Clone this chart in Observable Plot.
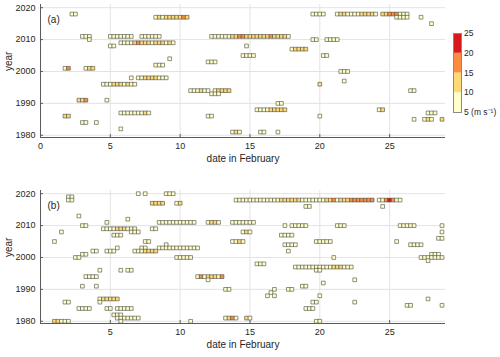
<!DOCTYPE html>
<html><head><meta charset="utf-8">
<script src="https://cdn.jsdelivr.net/npm/d3@7"></script>
<script src="https://cdn.jsdelivr.net/npm/@observablehq/plot@0.6"></script>
<style>
body{margin:0;background:#fff;}
#wrap{position:relative;width:500px;height:357px;font-family:"Liberation Sans",Arial,sans-serif;}
#wrap svg{position:absolute;overflow:visible;}
</style></head><body><div id="wrap"></div>
<script>
// wind-speed classes (m/s) shown by the colour bar
const colorBreaks = [5, 10, 15, 20, 25];
const classValues = [7.5, 12.5, 17.5, 22.5];
const colorRange = ["#ffffcc", "#fed976", "#fd8d3c", "#d7191c"];
const yTicks = [1980, 1990, 2000, 2010, 2020];
const xTicksA = [0, 5, 10, 15, 20, 25];
const xTicksB = [5, 10, 15, 20, 25];

// panel (a): episodes = year, first 6-hourly step (day in February), class of each step
const aYears = [2018,2017,2011,2010,2011,2011,2009,2008,2004,2002,2001,2001,1998,1998,1996,1991,1991,1987,1986,1984,1984,1982,
  2011,2008,2005,2003,1994,1994,1993,1986,1981,1981,1981,1990,1988,2007,2010,2010,2005,2018,2018,2018,2017,2017,2015,2000,1997,1996,1994,1988,1987,1986,1985,1985,1985];
const aStarts = [2.25,8.25,3.0,3.5,5.0,7.25,5.75,5.0,9.25,8.25,1.75,3.25,6.5,7.0,4.5,2.75,4.75,5.75,1.75,3.0,4.0,5.75,
  12.25,14.75,14.5,12.0,10.75,12.5,12.25,12.0,13.75,15.75,17.0,17.0,15.5,18.0,19.5,20.5,20.25,19.5,21.25,24.5,25.5,27.25,28.0,21.5,21.75,20.0,26.5,24.25,27.75,20.0,26.75,27.5,28.75];
const aCodes = ["11","1212222232","111","1","1111111","111111","1111232221222121","11","1","111","13","122","1","112222111","1112221211","223","1","111111121","22","11","1","1",
  "11111122332222222322221","1","1111","111","111211","12222","111","11","121","11","1","11","111122222","12222","11","1111","11","1111","122111122221","22333111","1111","1","1","111","1","2","11","12","111","1","1","121","2"];

// panel (b)
const bYears = [2019,2018,2020,2020,2020,2017,2017,2013,2012,2011,2010,2011,2011,2011,2009,2008,2009,2008,2007,2005,2005,2004,2003,2003,2003,2002,2002,2002,2001,2000,2000,1996,1996,1996,1994,1991,1991,1987,1986,1986,1984,1984,1984,1982,1981,1980,1980,
  2018,2018,2016,2016,2010,2010,2010,2010,2010,2008,2008,2007,2006,2005,2005,2005,2004,2004,2002,2001,2000,2000,1999,1998,1997,1996,1994,1993,1992,1993,1991,1990,1990,1990,1989,1988,1988,1988,1987,1986,1986,1985,1985,1984,1981,1981,1980,1980];
const bStarts = [2.0,2.0,7.0,7.5,9.0,8.0,9.75,2.75,6.25,4.75,3.0,8.5,12.0,13.75,4.5,6.5,8.0,1.5,5.25,1.0,7.5,9.0,5.5,7.25,8.5,3.75,4.75,6.75,3.0,2.5,9.75,4.25,5.75,6.25,3.25,3.0,4.0,4.25,4.25,1.75,2.75,4.75,5.5,5.25,5.5,5.75,1.0,
  14.0,24.25,19.0,24.5,17.5,18.0,21.25,25.75,28.75,14.5,28.75,17.25,28.5,13.75,19.75,25.5,17.5,26.5,17.75,28.0,21.0,27.25,27.75,15.5,18.25,19.75,11.25,12.0,20.25,22.5,18.75,13.25,16.75,17.75,16.5,16.25,16.75,20.0,27.75,19.5,22.5,26.25,28.75,19.0,13.25,14.75,10.75,19.75];
const bCodes = ["11","11","1","1","111","2222","12","1","1","1","11","11111111111","1221","1111111","1111222111","111","11","1","111","1","11","1","1","11","111111111111","11","111","1112222","11","11","11111","1","1","11","1111","1","1","122222","1","11","1111","11","11111","111","1111111","1","22111",
  "1111111111111222222111111122312223333333","1134311","11","1","1","11111","111","11111","1","121","1","1111","11","1121","11111","1","1111","1111","1","111","1","1111111","1","111","11111111111222111","11","13122213","1","1","1","11","11","1","11","1","1","1","1","1","11","1","11","1","111","1231","21","1","11"];

function expand(years, starts, codes) {
  const out = [];
  years.forEach((yr, i) => {
    [...codes[i]].forEach((c, k) => out.push({year: yr, day: starts[i] + 0.25 * k, speed: classValues[+c - 1]}));
  });
  return out;
}

const font = '"Liberation Sans", Arial, sans-serif';
const axisColor = "#5a5a5a";
const colorScale = {type: "threshold", domain: colorBreaks.slice(1, -1), range: colorRange};

function panel(data, xTicks, letter, height, mt, mb) {
  const fh = height - mt - mb, fw = 500 - 40 - 55;
  return Plot.plot({
    width: 500, height, marginTop: mt, marginBottom: mb, marginLeft: 40, marginRight: 55,
    style: {fontFamily: font, fontSize: "9px", color: "#262626", background: "transparent"},
    x: {domain: [0, 29]},
    y: {domain: [1979.3, 2021]},
    color: colorScale,
    marks: [
      Plot.gridX(xTicks, {stroke: "#e3e3e3", strokeOpacity: 1}),
      Plot.gridY(yTicks, {stroke: "#e3e3e3", strokeOpacity: 1}),
      Plot.ruleX([0], {stroke: axisColor}),
      Plot.ruleY([1979.3], {stroke: axisColor}),
      Plot.tickX(xTicks, {x: d => d, insetTop: fh - 3, stroke: axisColor}),
      Plot.tickY(yTicks, {y: d => d, insetRight: fw - 3, stroke: axisColor}),
      Plot.axisX(xTicks, {tickSize: 0, tickPadding: 5, label: null, fontSize: 9}),
      Plot.axisY(yTicks, {tickSize: 0, tickPadding: 5, label: null, fontSize: 9, tickFormat: d => String(d)}),
      Plot.dot(data, {x: "day", y: "year", fill: "speed", symbol: "square", r: 2.1, stroke: "#4a4a40", strokeWidth: 0.6}),
      Plot.text(["date in February"], {text: d => d, frameAnchor: "bottom", dy: 24, fontSize: 10}),
      Plot.text(["year"], {text: d => d, frameAnchor: "left", dx: -32, rotate: -90, fontSize: 10}),
      Plot.text([letter], {text: d => d, frameAnchor: "top-left", textAnchor: "start", dx: 7, dy: 11, fontSize: 10})
    ]
  });
}

const wrap = document.getElementById("wrap");
const A = panel(expand(aYears, aStarts, aCodes), xTicksA, "(a)", 175, 4, 38);
A.style.left = "0px"; A.style.top = "0px";
wrap.appendChild(A);
const B = panel(expand(bYears, bStarts, bCodes), xTicksB, "(b)", 182, 15, 34);
B.style.left = "0px"; B.style.top = "175px";
wrap.appendChild(B);

const bins = colorBreaks.slice(0, -1).map((lo, i) => ({lo, hi: colorBreaks[i + 1], v: classValues[i]}));
const CB = Plot.plot({
  width: 50, height: 100, marginLeft: 3, marginRight: 39, marginTop: 10, marginBottom: 11,
  style: {fontFamily: font, fontSize: "8.5px", color: "#262626", background: "transparent"},
  y: {domain: [5, 25]},
  color: colorScale,
  marks: [
    Plot.rect(bins, {y1: "lo", y2: "hi", fill: "v"}),
    Plot.frame({stroke: "#8a8a8a"}),
    Plot.axisY(colorBreaks, {anchor: "right", tickSize: 0, tickPadding: 2.5, label: null, fontSize: 8.5,
      tickFormat: d => d === 5 ? "5 (m s\u207B\u00B9)" : String(d)})
  ]
});
CB.style.left = "450px"; CB.style.top = "23px";
wrap.appendChild(CB);
</script></body></html>
